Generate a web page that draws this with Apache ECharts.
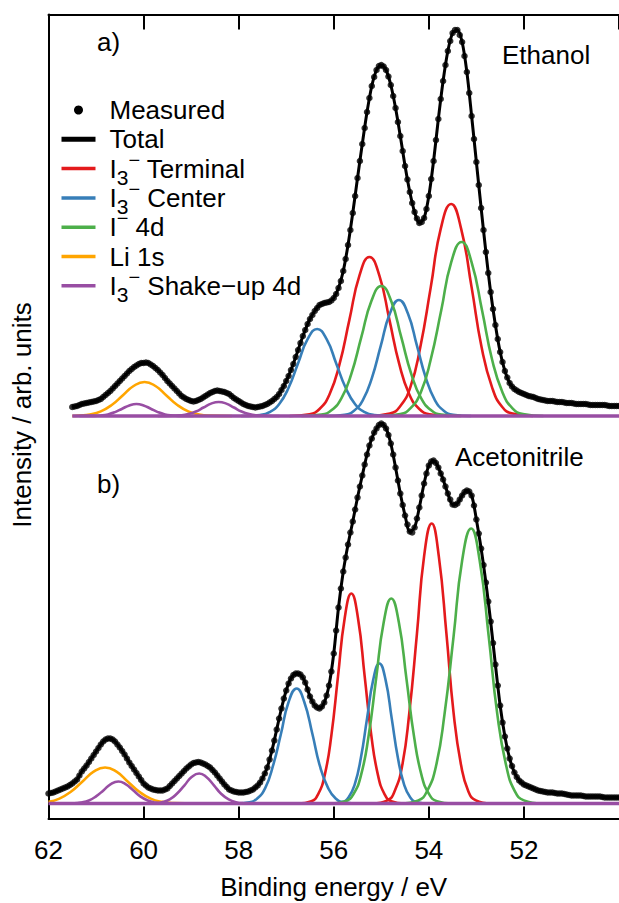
<!DOCTYPE html>
<html>
<head>
<meta charset="utf-8">
<script src="https://cdn.jsdelivr.net/npm/echarts@6.0.0/dist/echarts.min.js"></script>
<style>html,body{margin:0;padding:0;background:#fff}#chart{width:619px;height:903px}</style>
</head>
<body>
<div id="chart"></div>
<script>
// ---------------- data (binding energy in eV, intensity in arb. units) ----------------
const fitStep = 0.1;        // energy spacing of the total fit curves
const measuredStep = 0.05;  // energy spacing of the measured points
const startA = 61.5;        // first energy of the Ethanol spectrum
const startB = 62.0;        // first energy of the Acetonitrile spectrum
const tickLabels = [62, 60, 58, 56, 54, 52];

// a) Ethanol: measured points, 61.5 eV down to 50.0 eV
const measuredA = [
  9,9.5,10,11,12,12.5,13,13.5,14,14.5,
  15,16,17,19,21,23,25,27.5,30,32.5,
  35,37.5,40,42.5,45,47,49,50.5,52,53,
  53,53.5,53,51.5,50,48,46,43.5,41,38,
  35,32.5,30,27.5,25,22.5,20,18.5,17,16,
  15,14.5,15,16,17,18.5,20,21.5,23,24,
  25,25.5,25,24.5,24,23,22,20,18,16.5,
  15,13.5,12,11,10,9.5,9,8.5,9,9.5,
  10,11,12,13.5,15,17,19,22,26,30,
  35,40,46,52,59,66,73,80,86,92,
  97,101,105,108,111,112,113,113.5,114,115.5,
  118,122,128,135,145,157,171,186,203,220,
  238,255,272,288,304,318,330,339,346,350,
  351,349.5,346,339.5,331,320,308,294,280,265,
  250,236.5,224,213,204,197.5,193,194,198,207,
  220,237,255,276,297,317,335,351,365,375,
  383,386,386,381,374,360,344,323,300,277,
  254,231,208,186,164,143,124,107,91,77,
  64,54,45,38.5,33,29.5,27,25.5,24,23,
  22,21,20,19.5,19,18,17,16.5,16,15.5,
  15,15,15,14.5,14,14,14,13.5,13,13,
  13,12.5,12,12,12,12,12,11.5,11,11,
  11,11,11,11,11,10.5,10,10,10,10,
  10
];
// a) Ethanol: total fit, 61.5 eV down to 50.0 eV
const totalA = [
  9,10,12,13,14,15,17,21,25,30,
  35,40,45,49,52,53,53,50,46,41,
  35,30,25,20,17,15,15,17,20,23,
  25,25,24,22,18,15,12,10,9,9,
  10,12,15,19,26,35,46,59,73,86,
  97,105,111,113,114,118,128,145,171,203,
  238,272,304,330,346,351,346,331,308,280,
  250,224,204,193,198,220,255,297,335,365,
  383,386,374,344,300,254,208,164,124,91,
  64,45,33,27,24,22,20,19,17,16,
  15,15,14,14,13,13,12,12,12,11,
  11,11,11,10,10,10
];
// b) Acetonitrile: measured points, 62.0 eV down to 50.0 eV
const measuredB = [
  10,10.5,11,12,13,14,15,16,17,18.5,
  20,22,24,28,32,35,38,41.5,45,48.5,
  52,55.5,59,62,64,65,65,64,62,59,
  56,52.5,49,45,41,37.5,34,30.5,27,23.5,
  20,18,16,15,14,13.5,13,13,13,14,
  15,17.5,20,22.5,25,27.5,30,32.5,35,37,
  39,40.5,41,41.5,41,40,39,37.5,36,33.5,
  31,28,25,22,19,16.5,14,13,12,11.5,
  11,11,11,11.5,12,13,14,16,18,21,
  25,30,36,44,53,63,74,85,95,105,
  113,120,125,128.5,130,130,129,126,121,114,
  107,102,98,96,95,97,101,108,118,132,
  150,173,196,215,232,246,259,271,282,294,
  306,317,328,339,349,358,365,371,375,378.5,
  380,378.5,375,368.5,360,349,336,323,310,298.5,
  288,279,272,271,276,285,296,308,320,330,
  338,342,343,340.5,336,330,324,317,310,304,
  299,298.5,300,304,308,311.5,313,312,308,298,
  284,270,255,238.5,221,202,182,160.5,139,118,
  98,81,67,55,45,37.5,31,26.5,23,21,
  19,18,17,16,15,14,13,12.5,12,11.5,
  11,11,11,10.5,10,10,10,9.5,9,8.5,
  8,8,8,8,8,7.5,7,7,7,7,
  7,7,7,6.5,6,6,6,6,6,6,
  6
];
// b) Acetonitrile: total fit, 62.0 eV down to 50.0 eV
const totalB = [
  10,11,13,15,17,20,24,32,38,45,
  52,59,64,65,62,56,49,41,34,27,
  20,16,14,13,13,15,20,25,30,35,
  39,41,41,39,36,31,25,19,14,12,
  11,11,12,14,18,25,36,53,74,95,
  113,125,130,129,121,107,98,95,101,118,
  150,196,232,259,282,306,328,349,365,375,
  380,375,360,336,310,288,272,276,296,320,
  338,343,336,324,310,299,300,308,313,308,
  284,255,221,182,139,98,67,45,31,23,
  19,17,15,13,12,11,11,10,10,9,
  8,8,8,7,7,7,7,6,6,6,
  6
];

// fitted components, [energy, intensity]
const terminalA1 = [[56.93,0],[56.51,1.8],[56.30,7.0],[56.09,21.5],[55.88,51.6],[55.67,96.4],[55.46,140.3],[55.25,159],[55.04,140.3],[54.83,96.4],[54.62,51.6],[54.41,21.5],[54.20,7.0],[53.99,1.8],[53.57,0]];
const terminalA2 = [[55.25,0],[54.82,2.4],[54.61,9.3],[54.39,28.7],[54.18,68.8],[53.96,128.6],[53.75,187.1],[53.53,212],[53.32,187.1],[53.10,128.6],[52.89,68.8],[52.67,28.7],[52.46,9.3],[52.24,2.4],[51.81,0]];
const centerA1 = [[57.95,0],[57.55,1.0],[57.35,3.8],[57.15,11.8],[56.95,28.2],[56.75,52.8],[56.55,76.8],[56.35,87],[56.15,76.8],[55.95,52.8],[55.75,28.2],[55.55,11.8],[55.35,3.8],[55.15,1.0],[54.75,0]];
const centerA2 = [[56.15,0],[55.77,1.3],[55.58,5.1],[55.39,15.7],[55.20,37.7],[55.01,70.4],[54.82,102.4],[54.63,116],[54.44,102.4],[54.25,70.4],[54.06,37.7],[53.87,15.7],[53.68,5.1],[53.49,1.3],[53.11,0]];
const iodideA1 = [[56.68,0],[56.26,1.4],[56.05,5.7],[55.84,17.6],[55.63,42.2],[55.42,78.8],[55.21,114.7],[55.00,130],[54.79,114.7],[54.58,78.8],[54.37,42.2],[54.16,17.6],[53.95,5.7],[53.74,1.4],[53.32,0]];
const iodideA2 = [[55.03,0],[54.60,1.9],[54.39,7.6],[54.17,23.5],[53.96,56.5],[53.74,105.5],[53.53,153.6],[53.31,174],[53.10,153.6],[52.88,105.5],[52.67,56.5],[52.45,23.5],[52.24,7.6],[52.02,1.9],[51.59,0]];
const lithiumA = [[61.5,0],[61.36,0.4],[61.13,1.5],[60.90,4.6],[60.67,11.0],[60.44,20.6],[60.21,30.0],[59.98,34],[59.75,30.0],[59.52,20.6],[59.29,11.0],[59.06,4.6],[58.83,1.5],[58.60,0.4],[58.14,0]];
const shakeA1 = [[61.35,0],[61.05,0.1],[60.90,0.5],[60.75,1.6],[60.60,3.9],[60.45,7.3],[60.30,10.6],[60.15,12],[60.00,10.6],[59.85,7.3],[59.70,3.9],[59.55,1.6],[59.40,0.5],[59.25,0.1],[58.95,0]];
const shakeA2 = [[59.70,0],[59.38,0.2],[59.22,0.6],[59.06,1.9],[58.90,4.5],[58.74,8.5],[58.58,12.4],[58.42,14],[58.26,12.4],[58.10,8.5],[57.94,4.5],[57.78,1.9],[57.62,0.6],[57.46,0.2],[57.14,0]];
const baselineA = [[61.5,0],[50,0]];

const terminalB1 = [[56.75,0],[56.47,2.3],[56.33,9.2],[56.19,28.4],[56.05,68.2],[55.91,127.4],[55.77,185.3],[55.63,210],[55.49,185.3],[55.35,127.4],[55.21,68.2],[55.07,28.4],[54.93,9.2],[54.79,2.3],[54.51,0]];
const terminalB2 = [[55.18,0],[54.87,3.1],[54.72,12.3],[54.56,37.9],[54.41,90.9],[54.25,169.8],[54.10,247.1],[53.94,280],[53.79,247.1],[53.63,169.8],[53.48,90.9],[53.32,37.9],[53.17,12.3],[53.01,3.1],[52.70,0]];
const centerB1 = [[58.10,0],[57.77,1.3],[57.61,5.0],[57.44,15.6],[57.28,37.3],[57.11,69.7],[56.95,101.5],[56.78,115],[56.62,101.5],[56.45,69.7],[56.29,37.3],[56.12,15.6],[55.96,5.0],[55.79,1.3],[55.46,0]];
const centerB2 = [[56.08,0],[55.82,1.6],[55.69,6.1],[55.56,18.9],[55.43,45.5],[55.30,84.9],[55.17,123.6],[55.04,140],[54.91,123.6],[54.78,84.9],[54.65,45.5],[54.52,18.9],[54.39,6.1],[54.26,1.6],[54.00,0]];
const iodideB1 = [[56.07,0],[55.75,2.3],[55.59,9.0],[55.43,27.7],[55.27,66.6],[55.11,124.3],[54.95,180.9],[54.79,205],[54.63,180.9],[54.47,124.3],[54.31,66.6],[54.15,27.7],[53.99,9.0],[53.83,2.3],[53.51,0]];
const iodideB2 = [[54.59,0],[54.22,3.1],[54.04,12.1],[53.85,37.2],[53.67,89.3],[53.48,166.8],[53.30,242.7],[53.11,275],[52.93,242.7],[52.74,166.8],[52.56,89.3],[52.37,37.2],[52.19,12.1],[52.00,3.1],[51.63,0]];
const lithiumB = [[62.0,1.6],[61.77,4.9],[61.53,11.7],[61.29,21.8],[61.05,31.8],[60.81,36],[60.57,31.8],[60.33,21.8],[60.09,11.7],[59.85,4.9],[59.61,1.6],[59.37,0.4],[58.89,0]];
const shakeB1 = [[61.77,0],[61.46,0.2],[61.31,1.0],[61.15,3.0],[61.00,7.1],[60.84,13.3],[60.69,19.4],[60.53,22],[60.38,19.4],[60.22,13.3],[60.07,7.1],[59.91,3.0],[59.76,1.0],[59.60,0.2],[59.29,0]];
const shakeB2 = [[60.07,0],[59.76,0.3],[59.61,1.3],[59.45,4.1],[59.30,9.7],[59.14,18.2],[58.99,26.5],[58.83,30],[58.68,26.5],[58.52,18.2],[58.37,9.7],[58.21,4.1],[58.06,1.3],[57.90,0.3],[57.59,0]];
const baselineB = [[62,0],[50,0]];

// ---------------- chart ----------------
const FONT = '"Liberation Sans", Arial, Helvetica, sans-serif';
const C = {
  measured: '#000000', total: '#000000', terminal: '#e41a1c', center: '#377eb8',
  iodide: '#4daf4a', lithium: '#ffa500', shake: '#984ea3'
};
const N = {
  measured: 'Measured', total: 'Total', terminal: 'I3- Terminal', center: 'I3- Center',
  iodide: 'I- 4d', lithium: 'Li 1s', shake: 'I3- Shake-up 4d'
};
// every entry gets the same token structure so that all legend rows have the same height
const NB = '\u00a0';
const legendText = {
  'Measured': '{b|Measured}{sub|' + NB + '}{sup|' + NB + '}',
  'Total': '{b|Total}{sub|' + NB + '}{sup|' + NB + '}',
  'I3- Terminal': '{b|I}{sub|3}{sup|\u2212}{b| Terminal}',
  'I3- Center': '{b|I}{sub|3}{sup|\u2212}{b| Center}',
  'I- 4d': '{b|I}{sup|\u2212}{b| 4d}{sub|' + NB + '}',
  'Li 1s': '{b|Li 1s}{sub|' + NB + '}{sup|' + NB + '}',
  'I3- Shake-up 4d': '{b|I}{sub|3}{sup|\u2212}{b| Shake\u2212up 4d}'
};

const toPairs = (start, vals, step) => vals.map((v, i) => [Math.round((start - i * step) * 100) / 100, v]);

function comp(key, data, idx, width, z) {
  return {
    type: 'line', name: N[key], data: data, xAxisIndex: idx, yAxisIndex: idx,
    smooth: 0.5, symbol: 'none', clip: false, color: C[key], z: z || 3,
    lineStyle: { color: C[key], width: width || 2.6 }, silent: true
  };
}
function panelSeries(idx, measured, total, parts) {
  const out = [
    { type: 'scatter', name: N.measured, data: measured, xAxisIndex: idx, yAxisIndex: idx,
      symbol: 'circle', symbolSize: 6.5, clip: false, color: '#000', itemStyle: { color: '#000' }, z: 2, silent: true },
    { type: 'line', name: N.total, data: total, xAxisIndex: idx, yAxisIndex: idx, smooth: 0.3,
      symbol: 'none', clip: false, color: '#000', lineStyle: { color: '#000', width: 3 }, z: 2, silent: true }
  ];
  parts.forEach(p => out.push(comp(p[0], p[1], idx, p[2], p[3])));
  return out;
}

const seriesA = panelSeries(0, toPairs(startA, measuredA, measuredStep), toPairs(startA, totalA, fitStep), [
  ['terminal', terminalA1], ['terminal', terminalA2],
  ['center', centerA1], ['center', centerA2],
  ['iodide', iodideA1], ['iodide', iodideA2],
  ['lithium', lithiumA],
  ['shake', shakeA1], ['shake', shakeA2], ['shake', baselineA, 3.5, 4]
]);
const seriesB = panelSeries(1, toPairs(startB, measuredB, measuredStep), toPairs(startB, totalB, fitStep), [
  ['terminal', terminalB1], ['terminal', terminalB2],
  ['center', centerB1], ['center', centerB2],
  ['iodide', iodideB1], ['iodide', iodideB2],
  ['lithium', lithiumB],
  ['shake', shakeB1], ['shake', shakeB2], ['shake', baselineB, 3.5, 4]
]);

const axisLine = { show: true, onZero: false, lineStyle: { color: '#000', width: 2 } };
const xBase = {
  type: 'value', min: 50, max: 62, interval: 2, inverse: true,
  axisLine: axisLine, splitLine: { show: false }
};

const option = {
  animation: false,
  textStyle: { fontFamily: FONT },
  grid: [
    { left: 48.5, right: -1, top: 14.5, height: 403.5 },
    { left: 48.5, right: -1, top: 418, height: 400.5 }
  ],
  xAxis: [
    Object.assign({}, xBase, { gridIndex: 0, position: 'top',
      axisTick: { show: true, inside: true, length: 15, lineStyle: { color: '#000', width: 2 } },
      axisLabel: { show: false } }),
    Object.assign({}, xBase, { gridIndex: 1, position: 'bottom',
      axisTick: { show: true, inside: true, length: 12, lineStyle: { color: '#000', width: 2 } },
      axisLabel: { show: true, color: '#000', fontSize: 26, fontFamily: FONT, margin: 18,
        showMinLabel: false,
        formatter: v => (tickLabels.indexOf(v) >= 0 ? String(v) : '') },
      name: 'Binding energy / eV', nameLocation: 'middle', nameGap: 55,
      nameTextStyle: { color: '#000', fontSize: 26, fontFamily: FONT } })
  ],
  yAxis: [
    { type: 'value', gridIndex: 0, min: -2, max: 401.5, axisLine: axisLine,
      axisTick: { show: false }, axisLabel: { show: false }, splitLine: { show: false } },
    { type: 'value', gridIndex: 1, min: -15, max: 385.5, axisLine: axisLine,
      axisTick: { show: false }, axisLabel: { show: false }, splitLine: { show: false } }
  ],
  legend: {
    orient: 'vertical', left: 59, top: 91, padding: 0, itemGap: -9.2,
    itemWidth: 34, itemHeight: 9, selectedMode: false,
    itemStyle: { opacity: 0 },
    data: [
      { name: N.measured, itemStyle: { opacity: 1 } },
      { name: N.total, lineStyle: { width: 5 } },
      { name: N.terminal, lineStyle: { width: 3.5 } },
      { name: N.center, lineStyle: { width: 3.5 } },
      { name: N.iodide, lineStyle: { width: 3.5 } },
      { name: N.lithium, lineStyle: { width: 3.5 } },
      { name: N.shake, lineStyle: { width: 3.5 } }
    ],
    formatter: n => legendText[n] || n,
    textStyle: {
      color: '#000', fontSize: 26, fontFamily: FONT, lineHeight: 30, padding: [0, 0, 0, 9],
      rich: {
        b: { color: '#000', fontSize: 26, fontFamily: FONT, lineHeight: 30 },
        sub: { color: '#000', fontSize: 21, fontFamily: FONT, lineHeight: 12, height: 12, verticalAlign: 'bottom' },
        sup: { color: '#000', fontSize: 20, fontFamily: FONT, lineHeight: 12, height: 12, verticalAlign: 'top' }
      }
    }
  },
  graphic: [
    { type: 'text', x: 97, y: 42, silent: true,
      style: { text: 'a)', font: '26px ' + FONT, fill: '#000', align: 'left', verticalAlign: 'middle' } },
    { type: 'text', x: 97, y: 484, silent: true,
      style: { text: 'b)', font: '26px ' + FONT, fill: '#000', align: 'left', verticalAlign: 'middle' } },
    { type: 'text', x: 502, y: 55, silent: true,
      style: { text: 'Ethanol', font: '26px ' + FONT, fill: '#000', align: 'left', verticalAlign: 'middle' } },
    { type: 'text', x: 455, y: 457, silent: true,
      style: { text: 'Acetonitrile', font: '26px ' + FONT, fill: '#000', align: 'left', verticalAlign: 'middle' } },
    { type: 'text', x: 22, y: 415, rotation: Math.PI / 2, silent: true,
      style: { text: 'Intensity / arb. units', font: '26px ' + FONT, fill: '#000', align: 'center', verticalAlign: 'middle' } }
  ],
  series: seriesA.concat(seriesB)
};

const chart = echarts.init(document.getElementById('chart'), null, { renderer: 'svg' });
chart.setOption(option);
</script>
</body>
</html>
